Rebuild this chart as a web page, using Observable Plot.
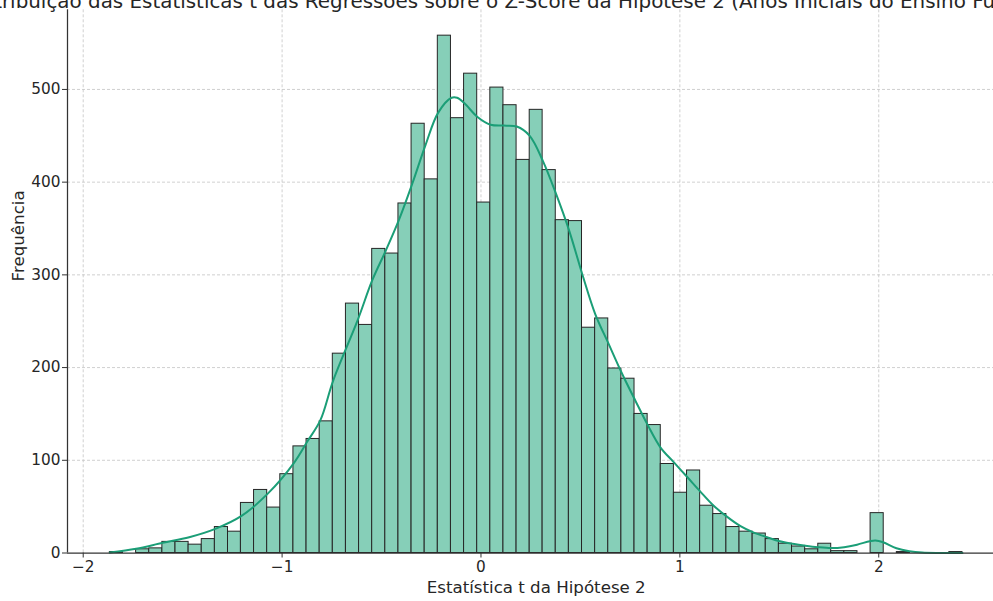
<!DOCTYPE html>
<html>
<head>
<meta charset="utf-8">
<script src="https://cdn.jsdelivr.net/npm/d3@7"></script>
<script src="https://cdn.jsdelivr.net/npm/@observablehq/plot@0.6"></script>
<style>
html, body { margin: 0; padding: 0; background: #fff; overflow: hidden; }
#chart { width: 993px; height: 601px; }
</style>
</head>
<body>
<div id="chart"></div>
<script>
const titleText = "Distribuição das Estatísticas t das Regressões sobre o Z-Score da Hipótese 2 (Anos Iniciais do Ensino Fundamental)";
const xLabel = "Estatística t da Hipótese 2";
const yLabel = "Frequência";

const binEdges = [
  -1.866, -1.800, -1.734, -1.668, -1.602, -1.536, -1.470, -1.404, -1.338, -1.272,
  -1.207, -1.141, -1.075, -1.009, -0.943, -0.877, -0.811, -0.745, -0.679, -0.613,
  -0.547, -0.481, -0.415, -0.349, -0.283, -0.217, -0.151, -0.085, -0.019, 0.047,
  0.113, 0.179, 0.245, 0.310, 0.376, 0.442, 0.508, 0.574, 0.640, 0.706,
  0.772, 0.838, 0.904, 0.970, 1.036, 1.102, 1.168, 1.234, 1.300, 1.366,
  1.432, 1.498, 1.564, 1.630, 1.696, 1.761, 1.827, 1.893, 1.959, 2.025,
  2.091, 2.157, 2.223, 2.289, 2.355, 2.421
];

const counts = [
  1, 0, 4, 5, 12, 12, 9, 15, 28, 23,
  54, 68, 49, 85, 115, 123, 142, 215, 269, 246,
  328, 323, 377, 463, 403, 558, 469, 517, 378, 502,
  483, 424, 478, 413, 359, 358, 243, 253, 199, 188,
  150, 138, 96, 65, 89, 51, 42, 28, 23, 21,
  15, 10, 7, 4, 10, 2, 2, 0, 43, 0,
  1, 0, 0, 0, 1
];

const kdeX = [
  -1.866, -1.734, -1.600, -1.467, -1.336, -1.204, -1.072, -0.941, -0.874, -0.808,
  -0.743, -0.622, -0.547, -0.479, -0.413, -0.346, -0.279, -0.215, -0.148, -0.120,
  -0.083, -0.016, 0.048, 0.115, 0.180, 0.245, 0.311, 0.378, 0.443, 0.509,
  0.574, 0.643, 0.706, 0.777, 0.836, 0.902, 0.969, 1.037, 1.104, 1.170,
  1.238, 1.305, 1.372, 1.439, 1.497, 1.565, 1.628, 1.693, 1.761, 1.826,
  1.891, 1.955, 1.983, 2.022, 2.089, 2.154, 2.218, 2.310, 2.421
];
const kdeY = [
  0.5, 4.5, 11, 17, 26, 40, 64, 97, 120, 143,
  186, 250, 294, 326, 359, 398, 440, 475, 491, 491,
  485, 470, 462, 461, 460, 450, 423, 387, 348, 301,
  258, 225, 195, 164, 139, 114, 98, 82, 66, 51,
  39, 29, 22, 17, 13, 10, 8, 6.3, 5.3, 6.3,
  9, 12.7, 13.5, 11.6, 5.2, 2, 0.5, 0.1, 0.1
];

const xTicks = [-2, -1, 0, 1, 2];
const yTicks = [0, 100, 200, 300, 400, 500];

const bins = counts.map((c, i) => ({x1: binEdges[i], x2: binEdges[i + 1], count: c}));
const kde = kdeX.map((x, i) => ({x, y: kdeY[i]}));

const fmt = d => d < 0 ? "\u2212" + Math.abs(d) : String(d);
const ink = "#262626";

const plot = Plot.plot({
  width: 993,
  height: 601,
  marginLeft: 67,
  marginRight: 0,
  marginTop: 9.3,
  marginBottom: 48.5,
  style: {fontFamily: "DejaVu Sans", background: "#fff", color: ink, overflow: "visible"},
  x: {domain: [-2.079, 2.577]},
  y: {domain: [0, 585.9]},
  marks: [
    Plot.gridX(xTicks, {stroke: "#c4c4c4", strokeOpacity: 1, strokeDasharray: "3,2", strokeWidth: 0.8}),
    Plot.gridY(yTicks.slice(1), {stroke: "#c4c4c4", strokeOpacity: 1, strokeDasharray: "3,2", strokeWidth: 0.8}),
    Plot.rectY(bins, {x1: "x1", x2: "x2", y: "count", fill: "#86cfb8", stroke: "#262626", strokeWidth: 1}),
    Plot.line(kde, {x: "x", y: "y", stroke: "#1b9e77", strokeWidth: 2, curve: "catmull-rom"}),
    Plot.ruleY([0], {stroke: "#333", strokeWidth: 1.25}),
    Plot.ruleX([-2.079], {stroke: "#333", strokeWidth: 1.25}),
    Plot.axisX(xTicks, {tickSize: 5, tickPadding: 3, fontSize: 15.3, tickFormat: fmt, label: null, stroke: "#333"}),
    Plot.axisY(yTicks, {tickSize: 5, tickPadding: 2, fontSize: 15.3, tickFormat: fmt, label: null, stroke: "#333"}),
    Plot.text([titleText], {frameAnchor: "top", dx: 6, dy: -1.8, lineAnchor: "bottom", fontSize: 19.9, fill: ink}),
    Plot.text([xLabel], {frameAnchor: "bottom", dx: 5.7, dy: 39.5, lineAnchor: "bottom", fontSize: 16.67, fill: ink}),
    Plot.text([yLabel], {frameAnchor: "left", dx: -49, rotate: -90, fontSize: 16.67, fill: ink})
  ]
});

document.getElementById("chart").appendChild(plot);
</script>
</body>
</html>
